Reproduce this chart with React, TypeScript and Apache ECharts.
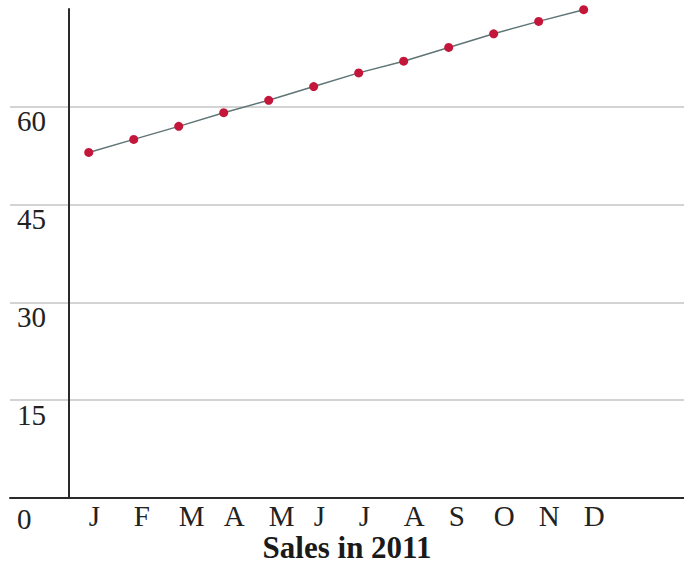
import React, { useEffect, useRef } from "react";
import * as echarts from "echarts";

const months = ["J", "F", "M", "A", "M", "J", "J", "A", "S", "O", "N", "D"];
const sales = [53, 55, 57, 59.1, 61, 63.1, 65.2, 67, 69.1, 71.2, 73.1, 74.9];
const yTicks = [0, 15, 30, 45, 60, 75];

// layout: distance of the first month from the vertical axis, in month widths
const X_OFFSET = 0.44;

export default function App() {
  const ref = useRef<HTMLDivElement>(null);
  useEffect(() => {
    if (!ref.current) return;
    const chart = echarts.init(ref.current, null, { renderer: "svg" });
    const positions = months.map((_, i) => i + X_OFFSET);
    const font = "'Liberation Serif', 'Times New Roman', serif";
    chart.setOption({
      animation: false,
      backgroundColor: "#ffffff",
      title: {
        text: "Sales in 2011",
        left: 347,
        top: 531,
        textAlign: "center",
        padding: 0,
        textStyle: { fontFamily: font, fontSize: 31, lineHeight: 32, fontWeight: "bold", color: "#1a1a1a" },
      },
      grid: { left: 10, right: 0, top: 9, bottom: 69, containLabel: false, outerBoundsMode: "none" },
      xAxis: {
        type: "value",
        min: -1.31,
        max: 13.67,
        splitLine: { show: false },
        axisTick: { show: false },
        axisLine: { show: true, onZero: true, lineStyle: { color: "#2a2a2a", width: 2 } },
        axisLabel: {
          customValues: positions,
          formatter: (v: number) => months[Math.round(v - X_OFFSET)] ?? "",
          align: "left",
          margin: 3,
          fontFamily: font,
          fontSize: 29,
          color: "#222",
          verticalAlign: "top",
        },
      },
      yAxis: {
        type: "value",
        min: yTicks[0],
        max: yTicks[yTicks.length - 1],
        interval: 15,
        axisLine: { show: true, onZero: true, lineStyle: { color: "#2a2a2a", width: 2 } },
        axisTick: { show: false },
        splitLine: {
          show: true,
          showMaxLine: false,
          lineStyle: { color: "#c4c4c4", width: 1.5 },
        },
        axisLabel: {
          align: "left",
          margin: -7,
          verticalAlign: "top",
          fontFamily: font,
          fontSize: 29,
          color: "#222",
          showMaxLabel: false,
          formatter: (v: number) => (v === 0 ? "{z|0}" : String(v)),
          rich: {
            z: { fontFamily: font, fontSize: 29, color: "#222", padding: [6, 0, 0, 0] },
          },
        },
      },
      series: [
        {
          type: "line",
          data: sales.map((v, i) => [positions[i], v]),
          symbol: "circle",
          symbolSize: 9,
          clip: false,
          lineStyle: { color: "#5f7474", width: 1.5 },
          itemStyle: { color: "#c4163a" },
        },
      ],
    });
    return () => chart.dispose();
  }, []);
  return <div ref={ref} style={{ width: 684, height: 567, position: "absolute", left: 0, top: 0 }} />;
}
